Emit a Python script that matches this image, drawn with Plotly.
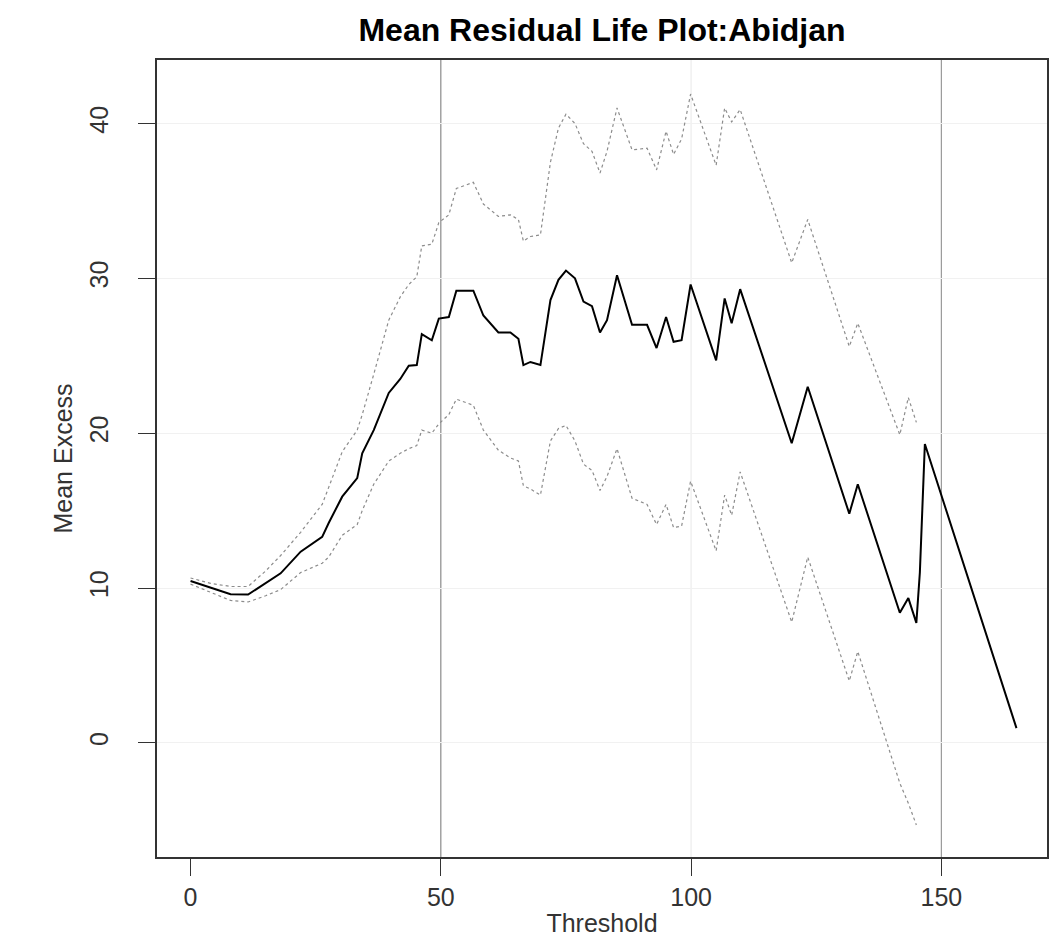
import plotly.graph_objects as go

# thresholds at which the mean excess was evaluated (vertices)
threshold = [0, 4, 8, 11.5, 15, 18, 22, 26.3, 27.6, 30.3, 33.3, 34.3, 36.6, 39.6,
             41.9, 43.6, 45.2, 46.2, 48.2, 49.6, 51.6, 53.1, 56.5, 58.5, 61.5,
             63.9, 65.5, 66.5, 67.9, 69.9, 71.9, 73.5, 75.0, 76.8, 78.5, 80.2,
             81.8, 83.2, 85.2, 88.2, 91.2, 93.1, 95.0, 96.5, 98.1, 99.9, 105.0,
             106.7, 108.1, 109.8, 120.1, 123.3, 131.6, 133.3, 141.7, 143.4, 145.0,
             145.7, 146.7, 165.0]

mean_excess = [10.45, 10.0, 9.6, 9.58, 10.3, 10.95, 12.35, 13.3, 14.2, 15.9, 17.1,
               18.7, 20.2, 22.6, 23.5, 24.35, 24.4, 26.4, 26.0, 27.4, 27.5, 29.2,
               29.2, 27.6, 26.5, 26.5, 26.1, 24.4, 24.6, 24.4, 28.6, 29.9, 30.5,
               30.0, 28.5, 28.2, 26.5, 27.3, 30.2, 27.0, 27.0, 25.5, 27.5, 25.9,
               26.0, 29.6, 24.7, 28.7, 27.1, 29.3, 19.35, 23.0, 14.8, 16.7, 8.4,
               9.35, 7.75, 11.0, 19.3, 0.95]

upper_ci = [10.65, 10.3, 10.1, 10.1, 11.1, 12.1, 13.6, 15.4, 16.5, 18.8, 20.2, 21.2,
            23.8, 27.3, 28.8, 29.6, 30.1, 32.1, 32.2, 33.6, 34.1, 35.8, 36.2, 34.8,
            34.0, 34.1, 33.8, 32.4, 32.7, 32.8, 37.5, 39.7, 40.6, 40.0, 38.7, 38.2,
            36.8, 38.2, 41.0, 38.3, 38.4, 37.0, 39.5, 38.0, 39.0, 41.9, 37.3, 41.0,
            40.1, 40.9, 31.0, 33.8, 25.6, 27.1, 19.9, 22.3, 20.7,
            None, None, None]

lower_ci = [10.25, 9.7, 9.2, 9.1, 9.5, 9.9, 11.0, 11.6, 12.0, 13.4, 14.1, 15.0, 16.7,
            18.2, 18.7, 19.0, 19.2, 20.2, 20.0, 20.6, 21.2, 22.2, 21.8, 20.2, 18.9,
            18.4, 18.2, 16.6, 16.4, 16.0, 19.5, 20.3, 20.5, 19.5, 18.0, 17.6, 16.3,
            17.2, 19.0, 15.8, 15.4, 14.1, 15.4, 13.9, 14.0, 16.9, 12.4, 16.0, 14.7,
            17.5, 7.8, 12.0, 4.0, 5.9, -2.6, -3.9, -5.3,
            None, None, None]

x_ticks = [0, 50, 100, 150]
y_ticks = [0, 10, 20, 30, 40]

fig = go.Figure()

# confidence bounds
for band in (upper_ci, lower_ci):
    fig.add_trace(go.Scatter(
        x=threshold, y=band, mode='lines',
        line=dict(color='#8c8c8c', width=1.2, dash='dot'),
        connectgaps=False, hoverinfo='skip'
    ))

# mean excess
fig.add_trace(go.Scatter(
    x=threshold, y=mean_excess, mode='lines',
    line=dict(color='black', width=2)
))

# darker vertical reference lines like the original
for xv, col in ((50, '#8a8a8a'), (100, '#ececec'), (150, '#9a9a9a')):
    fig.add_vline(x=xv, line_color=col, line_width=1.2, layer='below')

axis_font = dict(family='Liberation Sans, Arial, sans-serif', size=25, color='#333333')

# page body adds an 8px offset, so the figure is drawn 8px smaller
fig.update_layout(
    width=1055, height=943,
    margin=dict(l=149, r=16, t=52, b=94),
    paper_bgcolor='white', plot_bgcolor='white',
    showlegend=False,
    title=dict(
        text='<b>Mean Residual Life Plot:Abidjan</b>',
        x=0.5, xref='paper', xanchor='center',
        y=0.977, yref='container', yanchor='middle',
        font=dict(family='Liberation Sans, Arial, sans-serif', size=32, color='black')
    ),
    font=axis_font,
)

fig.update_xaxes(
    range=[-6.7, 171.1], tickvals=x_ticks,
    showgrid=False, zeroline=False,
    showline=True, mirror=True, linecolor='#333333', linewidth=1.5,
    ticks='outside', ticklen=17, tickcolor='#333333', tickwidth=1.2,
    tickfont=axis_font,
    title=dict(text='Threshold', font=axis_font, standoff=5),
)

fig.update_yaxes(
    range=[-7.37, 44.1], tickvals=y_ticks, tickangle=-90,
    showgrid=True, gridcolor='#f1f1f1', gridwidth=1, zeroline=False,
    showline=True, mirror=True, linecolor='#333333', linewidth=1.5,
    ticks='outside', ticklen=17, tickcolor='#333333', tickwidth=1.2,
    ticklabelstandoff=20,
    tickfont=axis_font,
    title=dict(text='Mean Excess', font=axis_font, standoff=6),
)

fig.write_html("out.html")
